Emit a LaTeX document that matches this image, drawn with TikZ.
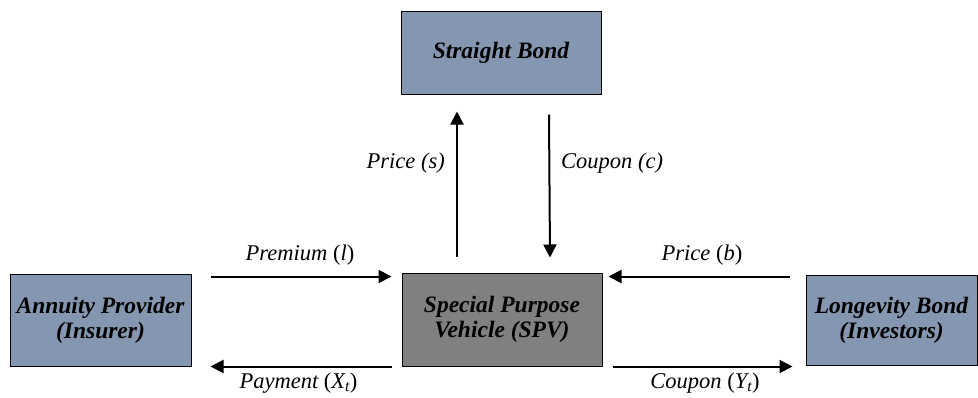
\documentclass[tikz,border=0pt]{standalone}
\usepackage{fontspec}
\setmainfont{Liberation Serif}
\usepackage{tikz}
\usetikzlibrary{positioning, arrows.meta}
\definecolor{bondblue}{RGB}{132,150,176}
\definecolor{spvgray}{RGB}{128,128,128}

\begin{document}
\begin{tikzpicture}[x=1pt, y=-1pt,
  box/.style={draw, line width=1pt, fill=bondblue, align=center, inner sep=0pt,
    font=\fontsize{23.5}{25}\selectfont\bfseries\itshape},
  flow/.style={line width=2pt, -{Triangle[length=13pt, width=13pt]}},
  lbl/.style={font=\fontsize{22.5}{25}\selectfont\itshape, inner sep=0pt}]
  \useasboundingbox (0,0) rectangle (978,397);

  \node[box, minimum width=200pt, minimum height=83pt] (SB) at (501,52.5) {Straight Bond};
  \node[box, fill=spvgray, minimum width=200pt, minimum height=93pt] (SPV) at (502,319.5) {Special Purpose\\Vehicle (SPV)};
  \node[box, minimum width=181pt, minimum height=92pt] (AP) at (100.5,320) {Annuity Provider\\(Insurer)};
  \node[box, minimum width=171pt, minimum height=90pt] (LB) at (891.5,320) {Longevity Bond\\(Investors)};

  \draw[flow] ([xshift=-45pt, yshift=16pt]SPV.north) -- ([xshift=-44pt, yshift=-17pt]SB.south);
  \draw[flow] ([xshift=48pt, yshift=-20pt]SB.south) -- ([xshift=48pt, yshift=15pt]SPV.north);
  \draw[flow] ([xshift=19pt, yshift=-3pt]AP.north east) -- ([xshift=-10pt, yshift=-4pt]SPV.north west);
  \draw[flow] ([xshift=-10pt]SPV.south west) -- ([xshift=19pt]AP.south east);
  \draw[flow] ([xshift=-16pt, yshift=-2pt]LB.north west) -- ([xshift=6pt, yshift=-4pt]SPV.north east);
  \draw[flow] ([xshift=10pt]SPV.south east) -- ([xshift=-13pt, yshift=-1pt]LB.south west);

  \node[lbl, anchor=east] (ps) at (445,163) {Price (s)};
  \node[lbl, anchor=west] (cc) at (561,163) {Coupon (c)};
  \node[lbl] (pl) at (300,255) {Premium {\upshape(}l{\upshape)}};
  \node[lbl] (px) at (298.5,383) {Payment {\upshape(}X\textsubscript{t}{\upshape)}};
  \node[lbl] (pb) at (702,255) {Price {\upshape(}b{\upshape)}};
  \node[lbl] (cy) at (705,383) {Coupon {\upshape(}Y\textsubscript{t}{\upshape)}};
\end{tikzpicture}
\end{document}
